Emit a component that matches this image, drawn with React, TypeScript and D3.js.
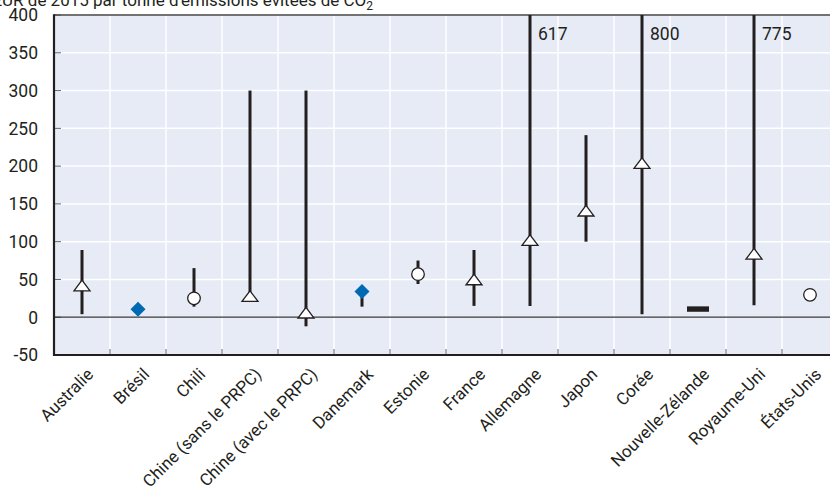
import React from "react";
import * as d3 from "d3";

// Coût en EUR de 2015 par tonne d'émissions évitées de CO2, par pays
const categories = [
  "Australie",
  "Brésil",
  "Chili",
  "Chine (sans le PRPC)",
  "Chine (avec le PRPC)",
  "Danemark",
  "Estonie",
  "France",
  "Allemagne",
  "Japon",
  "Corée",
  "Nouvelle-Zélande",
  "Royaume-Uni",
  "États-Unis",
];

// Bas et haut de la fourchette (null = pas de fourchette)
const rangeLow: (number | null)[] = [4, null, 14, 28, -12, 14, 44, 15, 15, 100, 4, null, 16, null];
const rangeHigh: (number | null)[] = [89, null, 65, 300, 300, 34, 75, 89, 617, 241, 800, null, 775, null];

// Valeur centrale et type de marqueur
const pointValue = [42, 10.5, 25, 28, 6, 34, 57, 50, 102, 141, 204, 10.8, 84, 29.6];
const markerType = [
  "triangle",
  "diamond",
  "circle",
  "triangle",
  "triangle",
  "diamond",
  "circle",
  "triangle",
  "triangle",
  "triangle",
  "triangle",
  "dash",
  "triangle",
  "circle",
];

const yTicks = [-50, 0, 50, 100, 150, 200, 250, 300, 350, 400];
const yDomain: [number, number] = [-50, 400];

const titleText = "EUR de 2015 par tonne d'émissions évitées de CO";
const titleSub = "2";

const W = 830;
const H = 493;
const plot = { left: 54, top: 15, right: 838, bottom: 355 };

const FONT = "Roboto, 'Liberation Sans', sans-serif";
const INK = "#231f20";
const BLUE = "#0069b4";

export default function App() {
  const x = d3
    .scaleBand<string>()
    .domain(categories)
    .range([plot.left, plot.right])
    .padding(0);
  const y = d3.scaleLinear().domain(yDomain).range([plot.bottom, plot.top]);
  const bw = x.bandwidth();

  const boundaries = categories.map((c) => x(c)!).concat([plot.right]);

  return (
    <svg
      width={W}
      height={H}
      style={{ position: "absolute", left: 0, top: 0, fontFamily: FONT }}
    >
      <defs>
        <clipPath id="plot-clip">
          <rect
            x={plot.left}
            y={plot.top}
            width={plot.right - plot.left}
            height={plot.bottom - plot.top}
          />
        </clipPath>
      </defs>

      {/* titre de l'axe */}
      <text x={373} y={6} fontSize={17} fill={INK} textAnchor="end">
        {titleText}
        <tspan fontSize={12} dy={3.5}>
          {titleSub}
        </tspan>
      </text>

      {/* fond de la zone de tracé */}
      <rect
        x={plot.left}
        y={plot.top}
        width={plot.right - plot.left}
        height={plot.bottom - plot.top}
        fill="#e6ebf6"
      />

      {/* quadrillage */}
      {yTicks.map((t) => (
        <line
          key={"gy" + t}
          x1={plot.left}
          x2={plot.right}
          y1={y(t)}
          y2={y(t)}
          stroke="#fff"
          strokeWidth={1.5}
        />
      ))}
      {boundaries.map((bx, i) => (
        <line
          key={"gx" + i}
          x1={bx}
          x2={bx}
          y1={plot.top}
          y2={plot.bottom}
          stroke="#fff"
          strokeWidth={1.5}
        />
      ))}

      {/* graduations */}
      {yTicks.map((t) => (
        <line
          key={"ty" + t}
          x1={plot.left}
          x2={plot.left + 7}
          y1={y(t)}
          y2={y(t)}
          stroke="#666"
          strokeWidth={1}
        />
      ))}
      {boundaries.map((bx, i) => (
        <line
          key={"tx" + i}
          x1={bx}
          x2={bx}
          y1={plot.bottom}
          y2={plot.bottom - 6}
          stroke="#666"
          strokeWidth={1}
        />
      ))}

      {/* ligne du zéro */}
      <line
        x1={plot.left}
        x2={plot.right}
        y1={y(0)}
        y2={y(0)}
        stroke="#333"
        strokeWidth={1.2}
      />

      {/* cadre */}
      <line x1={plot.left} x2={plot.right} y1={plot.top} y2={plot.top} stroke="#444" strokeWidth={1.5} />
      <line x1={plot.left} x2={plot.left} y1={plot.top - 0.75} y2={plot.bottom + 1} stroke={INK} strokeWidth={2.2} />
      <line x1={plot.left} x2={plot.right} y1={plot.bottom} y2={plot.bottom} stroke={INK} strokeWidth={2.2} />

      {/* étiquettes de l'axe Y */}
      {yTicks.map((t) => (
        <text
          key={"ly" + t}
          x={38}
          y={y(t)}
          dy="0.36em"
          fontSize={17.5}
          fill={INK}
          textAnchor="end"
        >
          {t}
        </text>
      ))}

      {/* fourchettes */}
      <g clipPath="url(#plot-clip)">
        {categories.map((c, i) => {
          const lo = rangeLow[i];
          const hi = rangeHigh[i];
          if (lo === null || hi === null) return null;
          const cx = x(c)! + bw / 2;
          return (
            <line
              key={"r" + c}
              x1={cx}
              x2={cx}
              y1={y(lo)}
              y2={y(hi)}
              stroke={INK}
              strokeWidth={3}
            />
          );
        })}
      </g>

      {/* valeurs hors échelle */}
      {categories.map((c, i) => {
        const hi = rangeHigh[i];
        if (hi === null || hi <= yDomain[1]) return null;
        const cx = x(c)! + bw / 2;
        return (
          <text key={"v" + c} x={cx + 8} y={39.5} fontSize={17.5} fill={INK}>
            {hi}
          </text>
        );
      })}

      {/* marqueurs */}
      {categories.map((c, i) => {
        const cx = x(c)! + bw / 2;
        const cy = y(pointValue[i]);
        const m = markerType[i];
        if (m === "triangle") {
          const hw = 8;
          const hh = 5.3;
          return (
            <path
              key={"m" + c}
              d={`M${cx},${cy - hh}L${cx + hw},${cy + hh}L${cx - hw},${cy + hh}Z`}
              fill="#fff"
              stroke={INK}
              strokeWidth={1.3}
              strokeLinejoin="miter"
            />
          );
        }
        if (m === "circle") {
          return (
            <circle
              key={"m" + c}
              cx={cx}
              cy={cy}
              r={6.3}
              fill="#fff"
              stroke={INK}
              strokeWidth={1.3}
            />
          );
        }
        if (m === "diamond") {
          const r = 7.5;
          return (
            <path
              key={"m" + c}
              d={`M${cx},${cy - r}L${cx + r},${cy}L${cx},${cy + r}L${cx - r},${cy}Z`}
              fill={BLUE}
            />
          );
        }
        return (
          <rect
            key={"m" + c}
            x={cx - 11}
            y={cy - 2.7}
            width={22}
            height={5.4}
            fill={INK}
          />
        );
      })}

      {/* étiquettes de l'axe X */}
      {categories.map((c) => {
        const cx = x(c)! + bw / 2;
        return (
          <text
            key={"lx" + c}
            transform={`translate(${cx + 4},${plot.bottom + 12}) rotate(-45)`}
            fontSize={17}
            fill={INK}
            textAnchor="end"
            dy="0.7em"
          >
            {c}
          </text>
        );
      })}
    </svg>
  );
}
